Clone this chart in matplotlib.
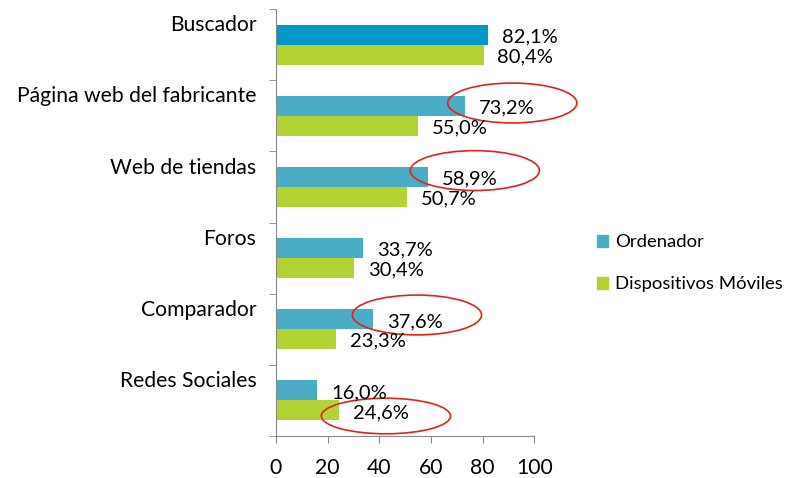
import numpy as np
import matplotlib
matplotlib.use("Agg")
import matplotlib.pyplot as plt
from matplotlib.patches import Ellipse, Patch

plt.rcParams['font.family'] = ['Lato', 'DejaVu Sans']

# -------------------------
# Data
# -------------------------
categories = ["Buscador", "Página web del fabricante", "Web de tiendas",
              "Foros", "Comparador", "Redes Sociales"]
ordenador = [82.1, 73.2, 58.9, 33.7, 37.6, 16.0]
moviles = [80.4, 55.0, 50.7, 30.4, 23.3, 24.6]
xticks = [0, 20, 40, 60, 80, 100]

# highlighted labels: (x center, y, width, height)
circles = [(91.5, 0.82, 50, 0.56), (77.0, 1.77, 50, 0.56),
           (54.6, 3.80, 50, 0.56), (42.6, 5.22, 50, 0.50)]

blue = "#4BACC6"
blue_top = "#0099C6"
green = "#B3D335"
fs = 14.5

fig = plt.figure(figsize=(7.95, 4.78), dpi=100)
ax = fig.add_axes([0.347, 0.088, 0.325, 0.893])

y = np.arange(len(categories))
h = 0.28
blue_cols = [blue_top] + [blue] * (len(categories) - 1)
ax.barh(y - h / 2, ordenador, height=h, color=blue_cols)
ax.barh(y + h / 2, moviles, height=h, color=green)

def fmt(v):
    return f"{v:.1f}%".replace(".", ",")

for yi, v in zip(y, ordenador):
    ax.annotate(fmt(v), (v, yi - h / 2 + 0.03), xytext=(10, 0),
                textcoords="offset points", va="center", fontsize=fs)
for yi, v in zip(y, moviles):
    ax.annotate(fmt(v), (v, yi + h / 2 + 0.03), xytext=(10, 0),
                textcoords="offset points", va="center", fontsize=fs)

for cx, cy, w, eh in circles:
    ax.add_patch(Ellipse((cx, cy), w, eh, fill=False, edgecolor="#E3231B",
                         linewidth=1.2, clip_on=False))

ax.set_ylim(len(categories) - 0.5, -0.5)
ax.set_xlim(0, 100)
ax.set_xticks(xticks)
ax.tick_params(axis="x", labelsize=15.2, direction="out", length=5,
               color="#888888", pad=11)
ax.set_yticks(y - 0.3)
ax.set_yticklabels(categories, fontsize=15.2)
ax.tick_params(axis="y", length=0, pad=14)
ax.set_yticks(np.arange(len(categories) + 1) - 0.5, minor=True)
ax.tick_params(axis="y", which="minor", length=5, direction="out",
               color="#888888")
for s in ["top", "right"]:
    ax.spines[s].set_visible(False)
for s in ["left", "bottom"]:
    ax.spines[s].set_color("#888888")

handles = [Patch(color=blue, label="Ordenador"),
           Patch(color=green, label="Dispositivos Móviles")]
fig.legend(handles=handles, loc="upper left", bbox_to_anchor=(0.742, 0.525),
           frameon=False, fontsize=13.3, handlelength=0.6, handleheight=0.6,
           handletextpad=0.35, labelspacing=1.4, borderaxespad=0)

fig.savefig("out.png", dpi=100)
